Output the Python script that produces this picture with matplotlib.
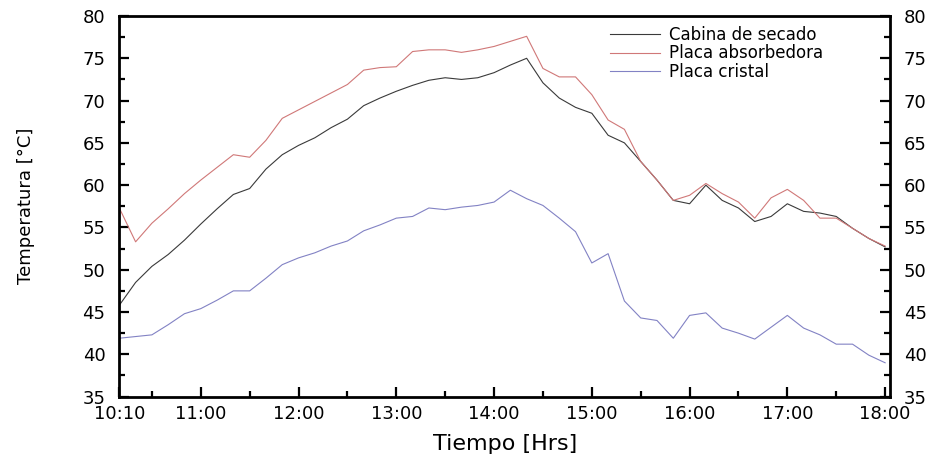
import matplotlib
matplotlib.use("Agg")
import matplotlib.pyplot as plt
from matplotlib.ticker import FixedLocator

# mediciones cada 10 minutos
horas = ["10:10", "10:20", "10:30", "10:40", "10:50", "11:00", "11:10", "11:20",
         "11:30", "11:40", "11:50", "12:00", "12:10", "12:20", "12:30", "12:40",
         "12:50", "13:00", "13:10", "13:20", "13:30", "13:40", "13:50", "14:00",
         "14:10", "14:20", "14:30", "14:40", "14:50", "15:00", "15:10", "15:20",
         "15:30", "15:40", "15:50", "16:00", "16:10", "16:20", "16:30", "16:40",
         "16:50", "17:00", "17:10", "17:20", "17:30", "17:40", "17:50", "18:00"]

cabina = [45.8, 48.5, 50.4, 51.8, 53.5, 55.4, 57.2, 58.9, 59.6, 61.9, 63.6, 64.7,
          65.6, 66.8, 67.8, 69.4, 70.3, 71.1, 71.8, 72.4, 72.7, 72.5, 72.7, 73.3,
          74.2, 75.0, 72.1, 70.3, 69.2, 68.5, 65.9, 65.0, 62.8, 60.6, 58.2, 57.8,
          60.0, 58.2, 57.3, 55.7, 56.3, 57.8, 56.9, 56.7, 56.3, 54.9, 53.7, 52.7]

absorbedora = [57.3, 53.3, 55.5, 57.2, 59.0, 60.6, 62.1, 63.6, 63.3, 65.3, 67.9, 68.9,
               69.9, 70.9, 71.9, 73.6, 73.9, 74.0, 75.8, 76.0, 76.0, 75.7, 76.0, 76.4,
               77.0, 77.6, 73.8, 72.8, 72.8, 70.7, 67.7, 66.6, 62.8, 60.6, 58.2, 58.8,
               60.2, 59.0, 58.0, 56.1, 58.5, 59.5, 58.2, 56.1, 56.1, 54.9, 53.7, 52.8]

cristal = [41.9, 42.1, 42.3, 43.5, 44.8, 45.4, 46.4, 47.5, 47.5, 49.0, 50.6, 51.4,
           52.0, 52.8, 53.4, 54.6, 55.3, 56.1, 56.3, 57.3, 57.1, 57.4, 57.6, 58.0,
           59.4, 58.4, 57.6, 56.1, 54.5, 50.8, 51.9, 46.3, 44.3, 44.0, 41.9, 44.6,
           44.9, 43.1, 42.5, 41.8, 43.2, 44.6, 43.1, 42.3, 41.2, 41.2, 39.9, 39.0]

etiquetas_x = ["10:10", "11:00", "12:00", "13:00", "14:00", "15:00", "16:00", "17:00", "18:00"]
medias_horas = ["10:30", "11:30", "12:30", "13:30", "14:30", "15:30", "16:30", "17:30"]


def minutos(h):
    hh, mm = h.split(":")
    return int(hh) * 60 + int(mm)


t = [minutos(h) for h in horas]

fig = plt.figure(figsize=(9.36, 4.54), dpi=100)
ax = fig.add_axes([119.3 / 936, 1 - 396.6 / 454, 770.7 / 936, 380.6 / 454])

ax.plot(t, cabina, color="#3a3a3a", lw=0.8, label="Cabina de secado")
ax.plot(t, absorbedora, color="#d07878", lw=0.8, label="Placa absorbedora")
ax.plot(t, cristal, color="#8282c4", lw=0.8, label="Placa cristal")

ax.set_xlim(610, 1083)
ax.set_ylim(35, 80)

ax.xaxis.set_major_locator(FixedLocator([minutos(h) for h in etiquetas_x]))
ax.set_xticklabels(etiquetas_x)
ax.xaxis.set_minor_locator(FixedLocator([minutos(h) for h in medias_horas]))
ax.set_yticks(range(35, 81, 5))
ax.yaxis.set_minor_locator(FixedLocator([37.5 + 5 * i for i in range(9)]))

for s in ax.spines.values():
    s.set_linewidth(2.0)

ax.tick_params(which="both", direction="in", top=False, right=True,
               labelright=True, width=1.6)
ax.tick_params(axis="y", which="major", length=7.5, pad=10, labelsize=13)
ax.tick_params(axis="y", which="minor", length=4)
ax.tick_params(axis="x", which="major", length=7.5, pad=6, labelsize=13)
ax.tick_params(axis="x", which="minor", length=4)

ax.set_xlabel("Tiempo [Hrs]", fontsize=16, labelpad=8)
ax.set_ylabel("Temperatura [°C]", fontsize=13, labelpad=34)

ax.legend(loc="upper left", bbox_to_anchor=(0.637, 0.975), frameon=False,
          fontsize=12, handlelength=3.0, handletextpad=0.5, labelspacing=0.05,
          borderpad=0, borderaxespad=0)

plt.savefig("out.png", dpi=100)
